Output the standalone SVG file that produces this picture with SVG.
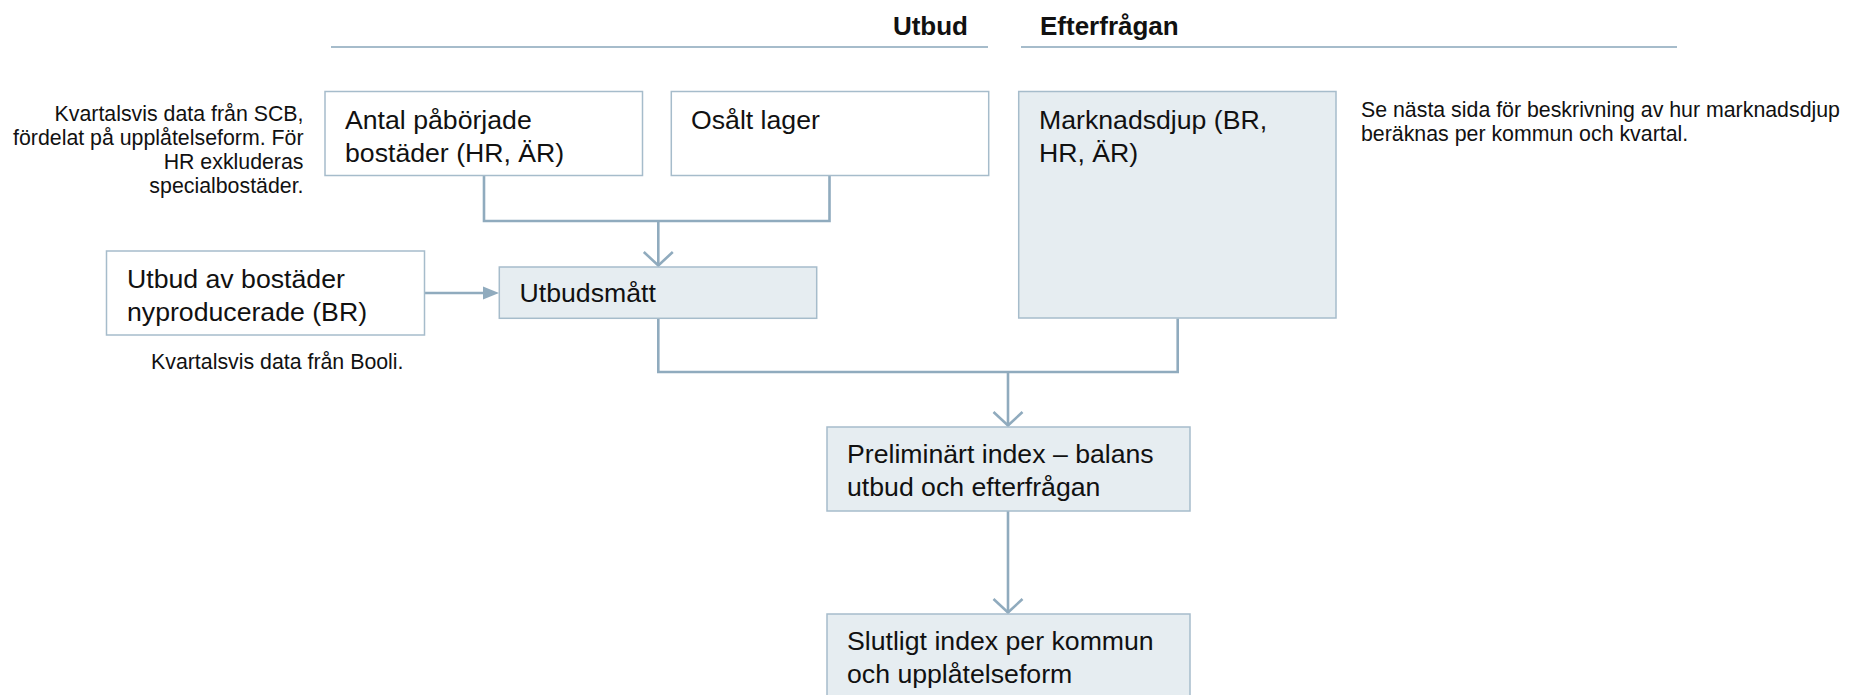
<svg xmlns="http://www.w3.org/2000/svg" width="1849" height="695" viewBox="0 0 1849 695">
<style>
text{font-family:"Liberation Sans",Arial,sans-serif;fill:#111}
.bt{font-size:26.67px}
.an{font-size:21.33px}
.hd{font-size:26px;font-weight:bold}
.bw{fill:#fff;stroke:#a6bccb;stroke-width:1.5}
.bf{fill:#e6edf1;stroke:#a6bccb;stroke-width:1.5}
.hl{stroke:#a6bccb;stroke-width:1.8;fill:none}
.cn{stroke:#90abbe;stroke-width:2.6;fill:none}
</style>
<defs>
<marker id="chev" viewBox="0 0 16 32" refX="15" refY="16" markerWidth="16" markerHeight="32" markerUnits="userSpaceOnUse" orient="auto">
<path d="M1,1.5 L14.5,16 L1,30.5" fill="none" stroke="#90abbe" stroke-width="2.6"/>
</marker>
</defs>
<rect width="1849" height="695" fill="#fff"/>
<g id="headers">
<line class="hl" x1="331" y1="47" x2="988" y2="47"/>
<line class="hl" x1="1021" y1="47" x2="1677" y2="47"/>
<text class="hd" x="968" y="35" text-anchor="end">Utbud</text>
<text class="hd" x="1040" y="35">Efterfrågan</text>
</g>
<g id="connectors">
<polyline class="cn" points="484,175.5 484,221 829.5,221 829.5,175.5"/>
<path class="cn" d="M658.3,221 L658.3,266" marker-end="url(#chev)"/>
<path class="cn" d="M424.5,293 L486,293"/>
<polygon points="483,286.5 499,293 483,299.5" fill="#90abbe"/>
<polyline class="cn" points="658.3,318.5 658.3,372 1177.7,372 1177.7,318.5"/>
<path class="cn" d="M1008,372 L1008,426" marker-end="url(#chev)"/>
<path class="cn" d="M1008,511 L1008,613" marker-end="url(#chev)"/>
</g>
<g id="note-scb">
<text class="an" text-anchor="end"><tspan x="303.5" y="121">Kvartalsvis data från SCB,</tspan><tspan x="303.5" y="145">fördelat på upplåtelseform. För</tspan><tspan x="303.5" y="169">HR exkluderas</tspan><tspan x="303.5" y="193">specialbostäder.</tspan></text>
</g>
<g id="node-antal">
<rect class="bw" x="325" y="91.5" width="317.5" height="84"/>
<text class="bt"><tspan x="345" y="128.5">Antal påbörjade</tspan><tspan x="345" y="161.5">bostäder (HR, ÄR)</tspan></text>
</g>
<g id="node-osalt">
<rect class="bw" x="671.3" y="91.5" width="317.4" height="84"/>
<text class="bt" x="691" y="128.5">Osålt lager</text>
</g>
<g id="node-marknadsdjup">
<rect class="bf" x="1018.7" y="91.5" width="317.3" height="226.5"/>
<text class="bt"><tspan x="1039" y="128.5">Marknadsdjup (BR,</tspan><tspan x="1039" y="161.5">HR, ÄR)</tspan></text>
</g>
<g id="note-marknadsdjup">
<text class="an"><tspan x="1361" y="117">Se nästa sida för beskrivning av hur marknadsdjup</tspan><tspan x="1361" y="141">beräknas per kommun och kvartal.</tspan></text>
</g>
<g id="node-utbud-br">
<rect class="bw" x="106.5" y="251" width="318" height="84"/>
<text class="bt"><tspan x="127" y="288">Utbud av bostäder</tspan><tspan x="127" y="321">nyproducerade (BR)</tspan></text>
</g>
<g id="note-booli">
<text class="an" x="151" y="369">Kvartalsvis data från Booli.</text>
</g>
<g id="node-utbudsmatt">
<rect class="bf" x="499.3" y="267" width="317.4" height="51.3"/>
<text class="bt" x="519.5" y="302">Utbudsmått</text>
</g>
<g id="node-preliminart">
<rect class="bf" x="827" y="427" width="363" height="84"/>
<text class="bt"><tspan x="847" y="463">Preliminärt index – balans</tspan><tspan x="847" y="496">utbud och efterfrågan</tspan></text>
</g>
<g id="node-slutligt">
<rect class="bf" x="827" y="614" width="363" height="100"/>
<text class="bt"><tspan x="847" y="650">Slutligt index per kommun</tspan><tspan x="847" y="683">och upplåtelseform</tspan></text>
</g>
</svg>
